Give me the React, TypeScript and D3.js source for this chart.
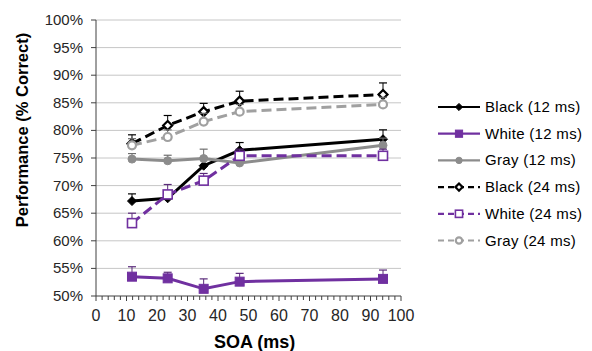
import { useEffect, useRef } from 'react'
import * as d3 from 'd3'

// SOA values (ms)
const soa = [11.8, 23.5, 35.3, 47.1, 94.1]

const black12 = [67.2, 67.7, 73.6, 76.4, 78.4]
const black12Err = [1.3, 1.3, 1.4, 1.4, 1.7]
const white12 = [53.5, 53.2, 51.3, 52.6, 53.1]
const white12Err = [1.8, 1.1, 1.8, 1.5, 1.6]
const gray12 = [74.8, 74.5, 74.9, 74.1, 77.3]
const gray12Err = [1.0, 1.0, 1.7, 1.2, 1.3]
const black24 = [77.6, 80.9, 83.4, 85.3, 86.5]
const black24Err = [1.6, 1.8, 1.5, 1.8, 2.1]
const white24 = [63.2, 68.4, 70.9, 75.4, 75.4]
const white24Err = [1.8, 1.8, 1.3, 1.2, 1.2]
const gray24 = [77.3, 78.8, 81.6, 83.4, 84.7]
const gray24Err = [1.2, 1.3, 1.5, 1.3, 1.3]

const seriesNames = ['Black (12 ms)', 'White (12 ms)', 'Gray (12 ms)', 'Black (24 ms)', 'White (24 ms)', 'Gray (24 ms)']

const yTicks = [50, 55, 60, 65, 70, 75, 80, 85, 90, 95, 100]
const xTicks = [0, 10, 20, 30, 40, 50, 60, 70, 80, 90, 100]

type Series = {
  name: string
  values: number[]
  err: number[]
  color: string
  dashed: boolean
  marker: 'diamond' | 'square' | 'circle'
  open: boolean
}

const series: Series[] = [
  { name: seriesNames[0], values: black12, err: black12Err, color: '#000000', dashed: false, marker: 'diamond', open: false },
  { name: seriesNames[1], values: white12, err: white12Err, color: '#7030A0', dashed: false, marker: 'square', open: false },
  { name: seriesNames[2], values: gray12, err: gray12Err, color: '#8C8C8C', dashed: false, marker: 'circle', open: false },
  { name: seriesNames[3], values: black24, err: black24Err, color: '#000000', dashed: true, marker: 'diamond', open: true },
  { name: seriesNames[4], values: white24, err: white24Err, color: '#7030A0', dashed: true, marker: 'square', open: true },
  { name: seriesNames[5], values: gray24, err: gray24Err, color: '#A0A0A0', dashed: true, marker: 'circle', open: true }
]

const font = 'Liberation Sans, Arial, sans-serif'

function drawMarker(g: d3.Selection<SVGGElement, unknown, null, undefined>, s: Series, x: number, y: number, k = 1) {
  const fill = s.open ? '#FFFFFF' : s.color
  const sw = s.open ? (s.marker === 'square' ? 1.6 : 2.2) : 1
  if (s.marker === 'diamond') {
    const r = 4.5 * k
    g.append('path')
      .attr('d', `M${x},${y - r}L${x + r},${y}L${x},${y + r}L${x - r},${y}Z`)
      .attr('fill', fill).attr('stroke', s.color).attr('stroke-width', sw)
  } else if (s.marker === 'square') {
    const r = 4.5 * k
    g.append('rect')
      .attr('x', x - r).attr('y', y - r).attr('width', 2 * r).attr('height', 2 * r)
      .attr('fill', fill).attr('stroke', s.color).attr('stroke-width', sw)
  } else {
    g.append('circle')
      .attr('cx', x).attr('cy', y).attr('r', 4 * k)
      .attr('fill', fill).attr('stroke', s.color).attr('stroke-width', sw)
  }
}

export default function App() {
  const svgRef = useRef<SVGSVGElement>(null)
  const width = 592
  const height = 351

  useEffect(() => {
    if (!svgRef.current) return
    const svg = d3.select(svgRef.current)
    svg.selectAll('*').remove()

    const left = 96, right = 401, top = 20, bottom = 296

    const x = d3.scaleLinear().domain([0, 100]).range([left, right])
    const y = d3.scaleLinear().domain([50, 100]).range([bottom, top])

    // grid
    svg.append('g')
      .selectAll('line')
      .data(yTicks.filter(t => t > 50))
      .enter()
      .append('line')
      .attr('x1', left).attr('x2', right)
      .attr('y1', d => y(d)).attr('y2', d => y(d))
      .attr('stroke', '#C6C6C6').attr('stroke-width', 1)

    // y axis
    const yAxis = svg.append('g')
    yAxis.append('line')
      .attr('x1', left).attr('x2', left).attr('y1', top).attr('y2', bottom)
      .attr('stroke', '#404040')
    yAxis.selectAll('.tick')
      .data(yTicks)
      .enter()
      .append('line')
      .attr('x1', left - 5).attr('x2', left)
      .attr('y1', d => y(d)).attr('y2', d => y(d))
      .attr('stroke', '#404040')
    yAxis.selectAll('text')
      .data(yTicks)
      .enter()
      .append('text')
      .attr('x', left - 13)
      .attr('y', d => y(d) + 5)
      .attr('text-anchor', 'end')
      .attr('font-family', font)
      .attr('font-size', 15)
      .attr('fill', '#262626')
      .text(d => `${d}%`)

    // x axis
    const xAxis = svg.append('g')
    xAxis.append('line')
      .attr('x1', left).attr('x2', right).attr('y1', bottom).attr('y2', bottom)
      .attr('stroke', '#404040')
    xAxis.selectAll('.minor')
      .data(d3.range(0, 101, 2))
      .enter()
      .append('line')
      .attr('x1', d => x(d)).attr('x2', d => x(d))
      .attr('y1', bottom).attr('y2', d => bottom + (d % 10 === 0 ? 5 : 4))
      .attr('stroke', '#404040')
    xAxis.selectAll('text')
      .data(xTicks)
      .enter()
      .append('text')
      .attr('x', d => x(d))
      .attr('y', bottom + 25)
      .attr('text-anchor', 'middle')
      .attr('font-family', font)
      .attr('font-size', 16)
      .attr('fill', '#262626')
      .text(d => `${d}`)

    // titles
    svg.append('text')
      .attr('x', x(52))
      .attr('y', bottom + 52)
      .attr('text-anchor', 'middle')
      .attr('font-family', font)
      .attr('font-size', 18)
      .attr('font-weight', 'bold')
      .attr('fill', '#000')
      .text('SOA (ms)')

    svg.append('text')
      .attr('transform', `translate(28,${(top + bottom) / 2 - 28}) rotate(-90)`)
      .attr('text-anchor', 'middle')
      .attr('font-family', font)
      .attr('font-size', 16.5)
      .attr('font-weight', 'bold')
      .attr('fill', '#000')
      .text('Performance (% Correct)')

    // series
    const line = d3.line<number>()
      .x((_, i) => x(soa[i]))
      .y(d => y(d))

    const plot = svg.append('g')
    series.forEach(s => {
      const sg = plot.append('g')
      const errColor = s.color === '#000000' ? '#000000' : s.color === '#7030A0' ? '#5a2a7a' : '#6e6e6e'
      // error bars (upper)
      s.values.forEach((v, i) => {
        const cx = x(soa[i])
        sg.append('line')
          .attr('x1', cx).attr('x2', cx)
          .attr('y1', y(v)).attr('y2', y(v + s.err[i]))
          .attr('stroke', errColor).attr('stroke-width', 1)
        sg.append('line')
          .attr('x1', cx - 4).attr('x2', cx + 4)
          .attr('y1', y(v + s.err[i])).attr('y2', y(v + s.err[i]))
          .attr('stroke', errColor).attr('stroke-width', 1.2)
      })
      sg.append('path')
        .attr('d', line(s.values))
        .attr('fill', 'none')
        .attr('stroke', s.color)
        .attr('stroke-width', 3)
        .attr('stroke-dasharray', s.dashed ? '10,5' : null)
      s.values.forEach((v, i) => drawMarker(sg, s, x(soa[i]), y(v)))
    })

    // legend
    const lg = svg.append('g')
    series.forEach((s, i) => {
      const ly = 107 + i * 26.7
      lg.append('line')
        .attr('x1', 438).attr('x2', 480)
        .attr('y1', ly).attr('y2', ly)
        .attr('stroke', s.color).attr('stroke-width', 2.2)
        .attr('stroke-dasharray', s.dashed ? '6,4' : null)
      const mg = lg.append('g')
      drawMarker(mg, s, 459, ly, 0.8)
      lg.append('text')
        .attr('x', 485)
        .attr('y', ly + 5)
        .attr('font-family', font)
        .attr('font-size', 15)
        .attr('letter-spacing', 0.3)
        .attr('fill', '#000')
        .text(s.name)
    })
  }, [])

  return (
    <svg
      ref={svgRef}
      width={width}
      height={height}
      style={{ position: 'absolute', left: 0, top: 0, background: '#fff' }}
    />
  )
}
